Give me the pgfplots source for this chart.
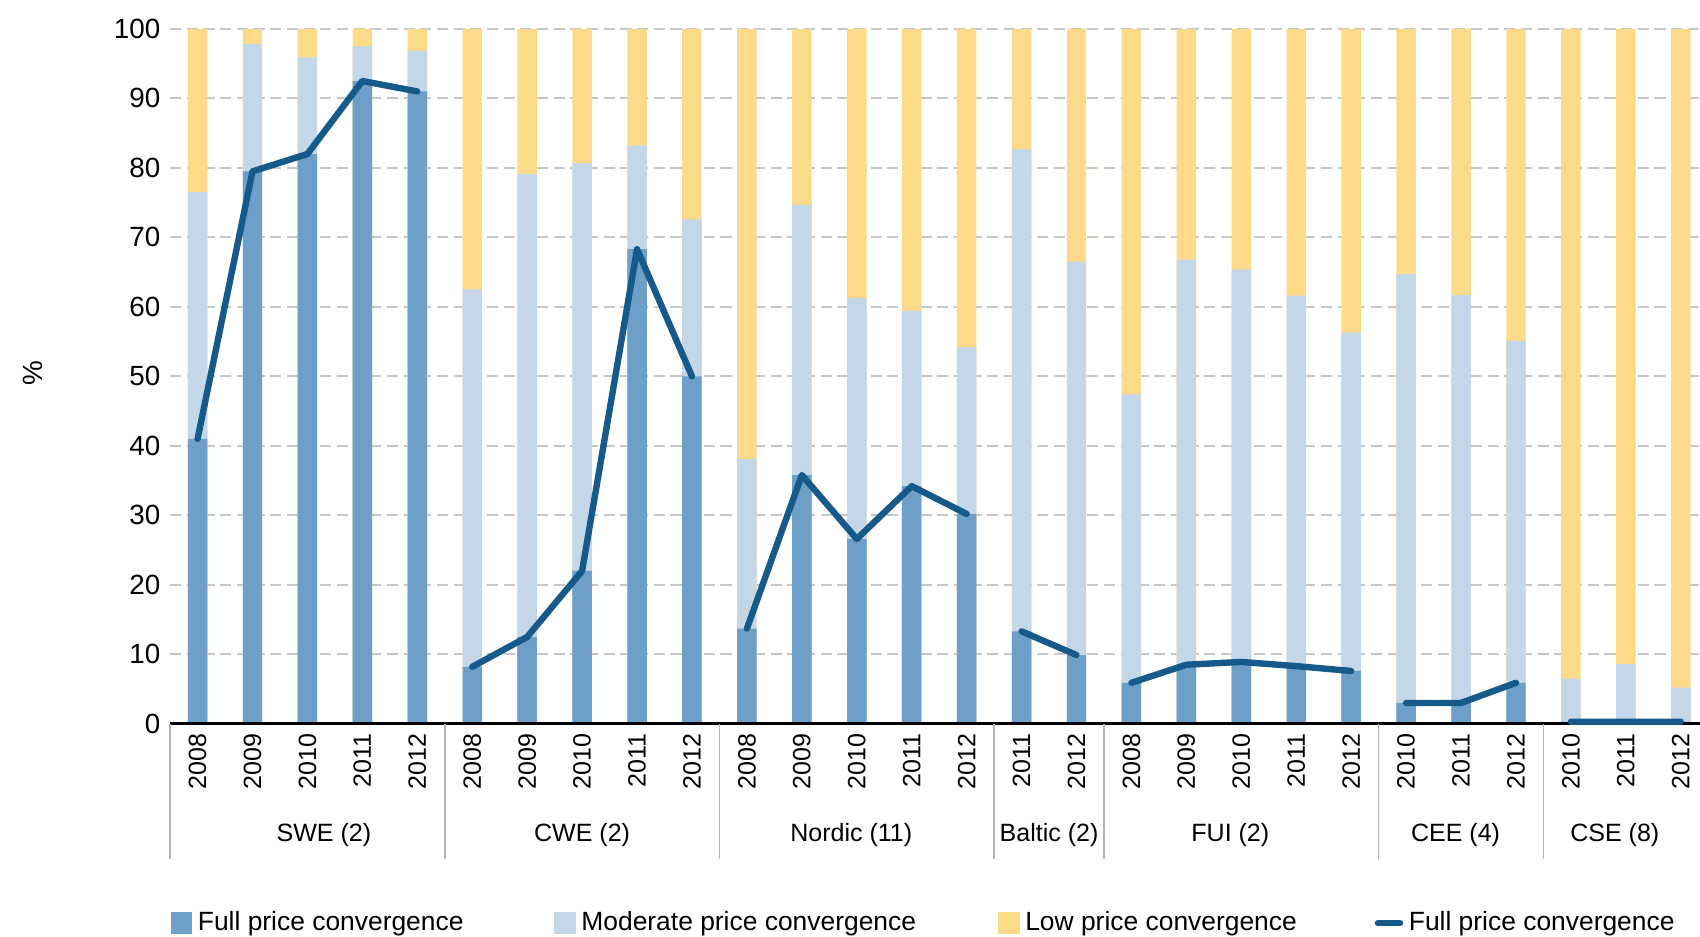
\documentclass[border=0pt]{standalone}
\usepackage{pgfplots}
\pgfplotsset{compat=1.18}
\usepackage{pgfplotstable}
\usepackage{fontspec}
\setmainfont{Liberation Sans}
\definecolor{fullc}{HTML}{6E9FC8}
\definecolor{modc}{HTML}{C3D7E9}
\definecolor{lowc}{HTML}{FDD98A}
\definecolor{linec}{HTML}{155A8A}

% x: bar index; full: full price convergence; modtop: full+moderate; total: full+moderate+low
\pgfplotstableread{
x full modtop total
0 41.0 76.5 100
1 79.5 97.8 100
2 82.0 95.9 100
3 92.5 97.5 100
4 91.0 96.8 100
5 8.2 62.5 100
6 12.5 79.1 100
7 22.0 80.7 100
8 68.3 83.2 100
9 50.0 72.6 100
10 13.7 38.1 100
11 35.8 74.7 100
12 26.6 61.3 100
13 34.2 59.4 100
14 30.2 54.2 100
15 13.3 82.7 100
16 9.9 66.5 100
17 5.9 47.4 100
18 8.5 66.8 100
19 8.9 65.4 100
20 8.3 61.6 100
21 7.6 56.3 100
22 3.0 64.7 100
23 3.0 61.7 100
24 5.9 55.1 100
25 0.3 6.5 100
26 0.3 8.6 100
27 0.3 5.2 100
}\bars

\pgfplotstableread{
x full
0 41.0
1 79.5
2 82.0
3 92.5
4 91.0
4.5 nan
5 8.2
6 12.5
7 22.0
8 68.3
9 50.0
9.5 nan
10 13.7
11 35.8
12 26.6
13 34.2
14 30.2
14.5 nan
15 13.3
16 9.9
16.5 nan
17 5.9
18 8.5
19 8.9
20 8.3
21 7.6
21.5 nan
22 3.0
23 3.0
24 5.9
24.5 nan
25 0.3
26 0.3
27 0.3
}\linedata

\begin{document}
\begin{tikzpicture}
\begin{axis}[
  name=ax,
  scale only axis,
  width=550.4pt, height=250pt,
  xmin=-0.5, xmax=27.35,
  ymin=0, ymax=100,
  ybar, bar width=7pt,
  ytick={0,10,...,100},
  xtick={0,...,27},
  xticklabels={2008,2009,2010,2011,2012,2008,2009,2010,2011,2012,2008,2009,2010,2011,2012,2011,2012,2008,2009,2010,2011,2012,2010,2011,2012,2010,2011,2012},
  axis line style={draw=none},
  major tick length=0pt,
  tick style={draw=none},
  ymajorgrids,
  grid style={dash pattern=on 4pt off 2pt, color=black!22, line width=0.7pt},
  yticklabel style={font=\fontsize{10}{12}\selectfont, /pgf/number format/assume math mode=true},
  xticklabel style={rotate=90, anchor=east, font=\fontsize{9}{10}\selectfont},
  clip=false,
  unbounded coords=jump,
  legend columns=4,
  legend cell align=left,
  legend style={at={(0,-0.287)}, anchor=west, draw=none, fill=none, inner sep=0pt,
    font=\fontsize{9.5}{11}\selectfont,
    /tikz/every even column/.append style={column sep=26pt}},
]
\addplot[forget plot, fill=lowc, draw=none, bar shift=0pt] table[x=x, y=total]{\bars};
\addplot[forget plot, fill=modc, draw=none, bar shift=0pt] table[x=x, y=modtop]{\bars};
\addplot[forget plot, fill=fullc, draw=none, bar shift=0pt] table[x=x, y=full]{\bars};
\draw[black, line width=1.1pt] (axis cs:-0.5,0) -- (axis cs:27.35,0);
\addplot[forget plot, sharp plot, mark=none, color=linec, line width=2.3pt, line join=round, line cap=round] table[x=x, y=full]{\linedata};

\addlegendimage{legend image code/.code={\fill[fullc] (0pt,-3.7pt) rectangle (7.4pt,3.7pt);}}
\addlegendentry{Full price convergence\hspace*{4.6pt}}
\addlegendimage{legend image code/.code={\fill[modc] (0pt,-3.7pt) rectangle (7.4pt,3.7pt);}}
\addlegendentry{Moderate price convergence\hspace*{1.5pt}}
\addlegendimage{legend image code/.code={\fill[lowc] (0pt,-3.7pt) rectangle (7.4pt,3.7pt);}}
\addlegendentry{Low price  convergence}
\addlegendimage{legend image code/.code={\draw[linec, line width=2.3pt, line cap=round] (0pt,0pt) -- (8pt,0pt);}}
\addlegendentry{Full price convergence}

% group separators
\draw[black!30, line width=0.6pt] (axis cs:-0.5,0) -- ++(0pt,-48.6pt);
\draw[black!30, line width=0.6pt] (axis cs:4.5,0) -- ++(0pt,-48.6pt);
\draw[black!30, line width=0.6pt] (axis cs:9.5,0) -- ++(0pt,-48.6pt);
\draw[black!30, line width=0.6pt] (axis cs:14.5,0) -- ++(0pt,-48.6pt);
\draw[black!30, line width=0.6pt] (axis cs:16.5,0) -- ++(0pt,-48.6pt);
\draw[black!30, line width=0.6pt] (axis cs:21.5,0) -- ++(0pt,-48.6pt);
\draw[black!30, line width=0.6pt] (axis cs:24.5,0) -- ++(0pt,-48.6pt);

% group labels
\node[font=\fontsize{9}{10}\selectfont] at ([yshift=-40pt]axis cs:2.3,0) {SWE (2)};
\node[font=\fontsize{9}{10}\selectfont] at ([yshift=-40pt]axis cs:7,0) {CWE (2)};
\node[font=\fontsize{9}{10}\selectfont] at ([yshift=-40pt]axis cs:11.9,0) {Nordic (11)};
\node[font=\fontsize{9}{10}\selectfont] at ([yshift=-40pt]axis cs:15.5,0) {Baltic (2)};
\node[font=\fontsize{9}{10}\selectfont] at ([yshift=-40pt]axis cs:18.8,0) {FUI (2)};
\node[font=\fontsize{9}{10}\selectfont] at ([yshift=-40pt]axis cs:22.9,0) {CEE (4)};
\node[font=\fontsize{9}{10}\selectfont] at ([yshift=-40pt]axis cs:25.8,0) {CSE (8)};

\node[rotate=90, font=\fontsize{10}{12}\selectfont] at ([xshift=-49.3pt]rel axis cs:0,0.504) {\%};
\end{axis}
\pgfresetboundingbox
\path[use as bounding box] ([shift={(-61.2pt,-76.6pt)}]ax.south west) rectangle ([shift={(550.4pt,260.4pt)}]ax.south west);
\end{tikzpicture}
\end{document}
